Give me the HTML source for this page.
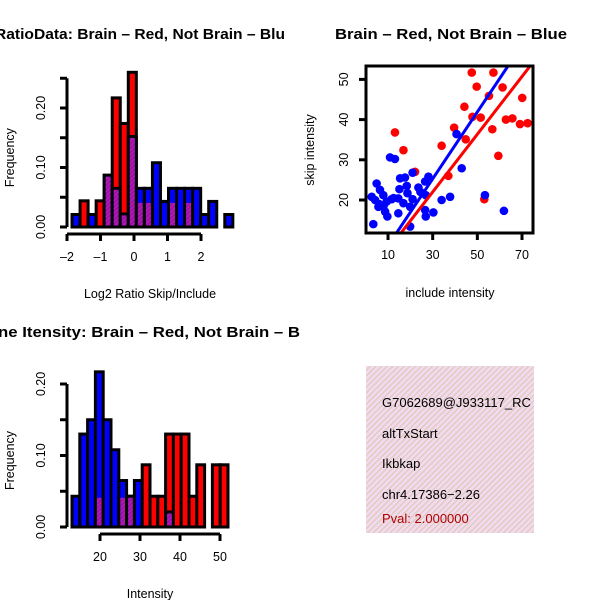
<!DOCTYPE html>
<html><head><meta charset="utf-8"><style>body{margin:0;background:#fff}svg{display:block}text{font-family:"Liberation Sans",sans-serif}</style></head>
<body>
<svg id="s" width="600" height="600" xmlns="http://www.w3.org/2000/svg">
<defs>
<pattern id="stripe" width="4" height="4" patternUnits="userSpaceOnUse" patternTransform="rotate(45)"><rect width="4" height="4" fill="#f8d8f0"/><rect width="1.5" height="4" fill="#d8d0c0"/></pattern>
<pattern id="purp" width="3" height="3" patternUnits="userSpaceOnUse" patternTransform="rotate(45)"><rect width="3" height="3" fill="#9a0fb0"/><rect width="1" height="3" fill="#c020a0"/></pattern>
<clipPath id="cl"><rect x="0" y="0" width="300" height="600"/></clipPath>
</defs>
<g id="g1" clip-path="url(#cl)"></g>
<g id="g2"></g>
<g id="g3" clip-path="url(#cl)"></g>
<g>
<rect x="366" y="366" width="168" height="167" fill="url(#stripe)"/>
<svg x="366" y="366" width="168" height="167">
<text x="16" y="41" font-size="13">G7062689@J933117_RC</text>
<text x="16" y="72" font-size="13">altTxStart</text>
<text x="16" y="102" font-size="13">Ikbkap</text>
<text x="16" y="133" font-size="13">chr4.17386−2.26</text>
<text x="16" y="157" font-size="13" fill="#b00000">Pval: 2.000000</text>
</svg></g>
</svg>
<script>
const h1Start=-1.85, h1Width=0.24;
const h1Blue=[0.021,0,0.021,0,0.087,0.065,0.022,0.152,0.065,0.065,0.108,0.043,0.065,0.065,0.065,0.065,0.021,0.043,0,0.021];
const h1Red=[0,0.044,0,0.044,0.087,0.217,0.174,0.26,0.043,0.043,0,0,0.043,0,0.043,0,0,0,0,0];
const h1XTicks=[-2,-1,0,1,2];
const h1YTicks=[0,0.05,0.10,0.15,0.20,0.25];
const h1YLabels=["0.00","","0.10","","0.20",""];
const h3Start=13, h3Width=1.95;
const h3Blue=[0.043,0.13,0.15,0.217,0.15,0.108,0.065,0.043,0.065,0,0,0,0.021,0,0,0,0,0,0,0];
const h3Red=[0,0,0,0.043,0,0,0.043,0.043,0,0.087,0.043,0.043,0.13,0.13,0.13,0.043,0.087,0,0.087,0.087];
const h3XTicks=[20,30,40,50];
const h3YTicks=[0,0.05,0.10,0.15,0.20];
const h3YLabels=["0.00","","0.10","","0.20"];
const redX=[47.5,57.2,49.7,61.3,55.2,70.1,44.2,47.8,51.5,62.8,65.7,69.1,72.5,39.6,56.7,44.8,13.1,16.9,34.0,59.4,37.0,53.1,22.1];
const redY=[51.7,51.7,48.2,48.0,45.9,45.4,43.2,40.7,40.5,40.0,40.3,38.9,39.1,38.0,37.6,35.1,36.8,32.4,33.5,31.0,26.0,20.2,27.0];
const blueX=[40.7,43.0,53.4,61.9,10.9,13.1,21.0,28.1,26.6,23.6,15.4,17.6,18.4,15.1,4.9,6.4,2.7,4.2,7.9,9.4,5.7,8.7,9.7,11.6,14.6,16.9,18.7,21.0,19.9,14.6,26.6,26.9,30.3,34.0,37.8,19.9,3.4,26.9,6.0,8.0,12.5,24.5];
const blueY=[36.4,27.9,21.2,17.3,30.6,30.2,26.8,25.8,24.6,23.1,25.4,25.6,23.5,22.7,24.1,22.5,20.8,20.0,21.2,19.6,18.3,17.1,15.9,20.2,20.4,19.2,21.7,20.2,18.3,16.7,17.5,15.9,16.9,20.0,20.8,13.4,14.0,21.2,19.0,18.5,20.5,22.0];
const fitBlue=[13.8, 41.5/49.9];
const fitRed=[15.8, 41.5/57.8];
const sxTicks=[10,30,50,70], syTicks=[20,30,40,50];
const NS="http://www.w3.org/2000/svg";
function mk(p,t,a){const e=document.createElementNS(NS,t);for(const k in a)e.setAttribute(k,a[k]);p.appendChild(e);return e;}
function hist(g,start,w,blue,red,xs,ys,yl,xT,yT,title,xlab,x0,x1,ytop,ybot){
 const X=v=>x0+(v-xs[0])*(x1-x0)/(xs[1]-xs[0]);
 const Y=v=>ybot-(v-ys[0])*(ybot-ytop)/(ys[1]-ys[0]);
 for(let i=0;i<red.length;i++){const a=start+i*w,b=a+w;
  const rv=red[i],bv=blue[i],m=Math.min(rv,bv);
  if(rv>0){const r=mk(g,'rect',{x:X(a),y:Y(rv),width:X(b)-X(a),height:Y(0)-Y(rv),fill:'#ff0000',stroke:'#000','stroke-width':3});
   
   }
  if(bv>0){const r=mk(g,'rect',{x:X(a),y:Y(bv),width:X(b)-X(a),height:Y(0)-Y(bv),fill:'#0000ff',stroke:'#000','stroke-width':3});
   
   }
  if(m>0){const r=mk(g,'rect',{x:X(a)+1.5,y:Y(m)+1.5,width:X(b)-X(a)-3,height:Y(0)-Y(m)-3,fill:'url(#purp)'});
   
   }
 }
 const ax=67; const yax=mk(g,'line',{x1:ax,x2:ax,y1:Y(yT[0]),y2:Y(yT[yT.length-1]),stroke:'#000','stroke-width':3});
 
 
 yT.forEach((v,i)=>{mk(g,'line',{x1:ax-7,x2:ax,y1:Y(v),y2:Y(v),stroke:'#000','stroke-width':3});
  if(yl[i]){const t=mk(g,'text',{x:0,y:0,'font-size':12.5,'text-anchor':'middle',transform:`translate(${ax-26},${Y(v)}) rotate(-90) translate(0,4)`});t.textContent=yl[i];
  
  }});
 const ay=ybot+7; const xax=mk(g,'line',{x1:X(xT[0]),x2:X(xT[xT.length-1]),y1:ay,y2:ay,stroke:'#000','stroke-width':3});
 
 
 xT.forEach(v=>{mk(g,'line',{x1:X(v),x2:X(v),y1:ay,y2:ay+7,stroke:'#000','stroke-width':3});
  const t=mk(g,'text',{x:X(v),y:ay+27,'font-size':12.5,'text-anchor':'middle'});t.textContent=String(v).replace('-','–');
  
  });
 const yt=mk(g,'text',{'font-size':12.5,'text-anchor':'middle',transform:`translate(14,${(Y(yT[0])+Y(yT[yT.length-1]))/2+5}) rotate(-90)`});yt.textContent='Frequency';
 
 
 const xt=mk(g,'text',{x:150,y:ybot+71,'font-size':12.5,'text-anchor':'middle'});xt.textContent=xlab;
 
 
 const tt=mk(g,'text',{x:title[1],y:title[2],'font-size':14.5,'font-weight':'bold',textLength:title[3],lengthAdjust:'spacingAndGlyphs'});tt.textContent=title[0];
 
 
}
hist(document.getElementById('g1'),h1Start,h1Width,h1Blue,h1Red,[-2,2],[0,0.2],h1YLabels,h1XTicks,h1YTicks,["RatioData: Brain – Red, Not Brain – Blu",-5,39,290],"Log2 Ratio Skip/Include",67,201,108,227);
hist(document.getElementById('g3'),h3Start,h3Width,h3Blue,h3Red,[20,50],[0,0.2],h3YLabels,h3XTicks,h3YTicks,["ne Itensity: Brain – Red, Not Brain – B",-2,337,302],"Intensity",100,220,384,527);
(function(){const g=document.getElementById('g2');
 const X=v=>365.7+v*2.233, Y=v=>200-(v-20)*4.02;
 const c=mk(g,'clipPath',{id:'sc'});mk(c,'rect',{x:366,y:66,width:167,height:167});
 const pg=mk(g,'g',{'clip-path':'url(#sc)'});
 redX.forEach((v,i)=>{const p=mk(pg,'circle',{cx:X(v),cy:Y(redY[i]),r:4.3,fill:'#ff0000'});
  
  });
 blueX.forEach((v,i)=>{const p=mk(pg,'circle',{cx:X(v),cy:Y(blueY[i]),r:4.3,fill:'#0000ff'});
  
  });
 [[fitRed,'#ff0000','red-fit-line'],[fitBlue,'#0000ff','blue-fit-line']].forEach(([f,col,n])=>{
  const xa=f[0],s=f[1],xb=xa+60/s;
  const l=mk(pg,'line',{x1:X(xa),y1:Y(11.8),x2:X(xb),y2:Y(71.8),stroke:col,'stroke-width':3});
  
  });
 const b=mk(g,'rect',{x:366,y:66,width:167,height:167,fill:'none',stroke:'#000','stroke-width':3});
 
 
 sxTicks.forEach(v=>{mk(g,'line',{x1:X(v),x2:X(v),y1:233,y2:240,stroke:'#000','stroke-width':3});
  const t=mk(g,'text',{x:X(v),y:259,'font-size':12.5,'text-anchor':'middle'});t.textContent=v;
  
  });
 syTicks.forEach(v=>{mk(g,'line',{x1:359,x2:366,y1:Y(v),y2:Y(v),stroke:'#000','stroke-width':3});
  const t=mk(g,'text',{'font-size':12.5,'text-anchor':'middle',transform:`translate(344,${Y(v)}) rotate(-90) translate(0,4)`});t.textContent=v;
  
  });
 const yt=mk(g,'text',{'font-size':12.5,'text-anchor':'middle',transform:'translate(314,150) rotate(-90)'});yt.textContent='skip intensity';
 
 
 const xt=mk(g,'text',{x:450,y:297,'font-size':12.5,'text-anchor':'middle'});xt.textContent='include intensity';
 
 
 const tt=mk(g,'text',{x:335,y:39,'font-size':14.5,'font-weight':'bold',textLength:232,lengthAdjust:'spacingAndGlyphs'});tt.textContent='Brain – Red, Not Brain – Blue';
 
 
})();
</script>
</body></html>
